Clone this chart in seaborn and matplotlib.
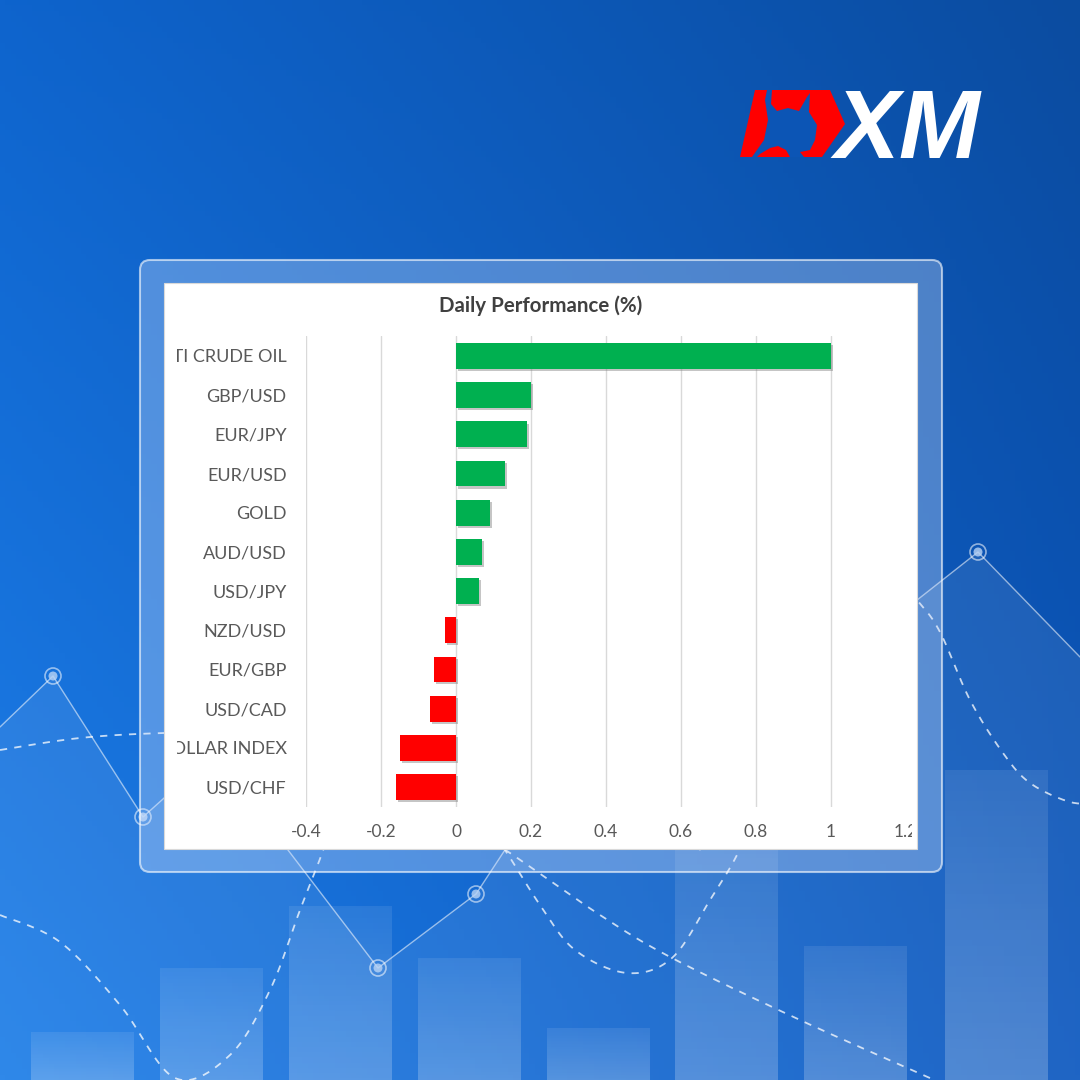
#importing libraries
import numpy as np
import pandas as pd
import seaborn as sns
import matplotlib.pyplot as plt
import matplotlib.patheffects as pe
from matplotlib.patches import Rectangle, FancyBboxPatch, Polygon, Circle
from matplotlib.transforms import Bbox, TransformedBbox

#chart data
markets = ["WTI CRUDE OIL", "GBP/USD", "EUR/JPY", "EUR/USD", "GOLD", "AUD/USD",
           "USD/JPY", "NZD/USD", "EUR/GBP", "USD/CAD", "DOLLAR INDEX", "USD/CHF"]
changes = [1.0, 0.20, 0.19, 0.13, 0.09, 0.07, 0.06, -0.03, -0.06, -0.07, -0.15, -0.16]
x_ticks = [-0.4, -0.2, 0, 0.2, 0.4, 0.6, 0.8, 1.0, 1.2]
x_tick_labels = ["-0.4", "-0.2", "0", "0.2", "0.4", "0.6", "0.8", "1", "1.2"]
title = "Daily Performance (%)"

df = pd.DataFrame({"market": markets, "change": changes})
df["sign"] = np.where(df["change"] >= 0, "up", "down")

sns.set_theme(style="white")
plt.rcParams["font.family"] = ["Lato", "DejaVu Sans"]

fig = plt.figure(figsize=(10.8, 10.8), dpi=100)

#background layer in pixel coordinates
bg = fig.add_axes([0, 0, 1, 1])
yy, xx = np.mgrid[0:1:200j, 0:1:200j]
tl, tr = np.array([14, 100, 205]), np.array([11, 76, 160])
bl, br = np.array([30, 126, 232]), np.array([12, 88, 192])
rgb = (tl * ((1 - xx) * (1 - yy))[..., None] + tr * (xx * (1 - yy))[..., None]
       + bl * ((1 - xx) * yy)[..., None] + br * (xx * yy)[..., None]) / 255
bg.imshow(rgb, extent=(0, 1080, 1080, 0), aspect="auto", zorder=0)

#decorative columns
col_left = [31, 160, 289, 418, 547, 675, 804, 945]
col_top = [1032, 968, 906, 958, 1028, 850, 946, 770]
for x0, top in zip(col_left, col_top):
    fade = np.zeros((60, 1, 4))
    fade[..., :3] = 1
    fade[:, 0, 3] = np.linspace(0.09, 0.22, 60)
    bg.imshow(fade, extent=(x0, x0 + 103, 1080, top), aspect="auto", zorder=1)

#decorative mountain line
mx = [0, 53, 143, 214, 378, 476, 560, 700, 860, 978, 1080]
my = [727, 676, 817, 753, 968, 894, 766, 850, 645, 552, 657]
bg.fill_between(mx, my, 1080, color="white", alpha=0.08, lw=0, zorder=2)
bg.plot(mx, my, color="white", alpha=0.55, lw=1, zorder=3)
for px, py in [(53, 676), (143, 817), (378, 968), (476, 894), (978, 552)]:
    bg.add_patch(Circle((px, py), 8, fc="none", ec="white", alpha=0.55, lw=1.2, zorder=4))
    bg.add_patch(Circle((px, py), 4.5, fc="#b8d3f5", ec="none", alpha=0.8, zorder=4))


def smooth(points, n=30):
    # catmull-rom through the given control points (decoration only)
    p = np.array(points, dtype=float)
    p = np.vstack([p[0], p, p[-1]])
    out = []
    for i in range(1, len(p) - 2):
        t = np.linspace(0, 1, n)[:, None]
        p0, p1, p2, p3 = p[i - 1], p[i], p[i + 1], p[i + 2]
        out.append(0.5 * (2 * p1 + (-p0 + p2) * t + (2 * p0 - 5 * p1 + 4 * p2 - p3) * t ** 2
                          + (-p0 + 3 * p1 - 3 * p2 + p3) * t ** 3))
    return np.vstack(out)


dashed = [
    [(0, 750), (80, 738), (164, 733), (260, 732), (330, 745)],
    [(0, 915), (60, 942), (120, 1005), (175, 1078), (230, 1055), (270, 990), (300, 910), (325, 845), (345, 780)],
    [(470, 800), (505, 850), (540, 905), (575, 950), (627, 973), (672, 958), (710, 900), (738, 853), (760, 800)],
    [(480, 835), (510, 853), (600, 915), (672, 958), (800, 1020), (930, 1078), (960, 1092)],
    [(880, 560), (917, 600), (940, 632), (970, 700), (1003, 753), (1030, 783), (1070, 802), (1100, 803)],
]
for pts in dashed:
    c = smooth(pts)
    bg.plot(c[:, 0], c[:, 1], color="white", alpha=0.75, lw=1.3, ls=(0, (4, 4)), zorder=3)

#panel frame and white card
bg.add_patch(FancyBboxPatch((140, 260), 802, 612, boxstyle="round,pad=0,rounding_size=10",
                            fc=(0.85, 0.9, 1, 0.32), ec=(1, 1, 1, 0.6), lw=1.5, zorder=5))
bg.add_patch(Rectangle((164, 283), 753, 566, fc="white", ec="#d9d9d9", lw=0.8, zorder=6))

#XM logo
bg.add_patch(Polygon([(755, 90), (830, 90), (845, 124), (822, 157), (740, 157)],
                     closed=True, fc="#ff0000", ec="none", zorder=7))
bull = [(767, 90), (772, 90), (771, 104), (777, 111), (788, 108), (799, 111), (807, 97), (810, 93),
        (809, 112), (817, 125), (815, 140), (810, 150), (800, 152), (804, 157), (790, 157),
        (786, 150), (778, 146), (770, 148), (760, 154), (757, 157), (752, 157), (764, 140),
        (768, 120), (765, 100)]
bg.add_patch(Polygon(bull, closed=True, fc="#0c55b5", ec="none", zorder=8))
bg.text(834, 158, "XM", color="white", fontsize=70, fontweight="heavy", fontstyle="italic",
        family=["Liberation Sans", "DejaVu Sans"], ha="left", va="baseline", zorder=8)

bg.set_xlim(0, 1080)
bg.set_ylim(1080, 0)
bg.axis("off")

#bar chart
ax = fig.add_axes([306 / 1080, (1080 - 806.6) / 1080, 600 / 1080, 470.2 / 1080])
sns.barplot(data=df, x="change", y="market", hue="sign", orient="h", dodge=False,
            palette={"up": "#00B050", "down": "#FF0000"}, saturation=1, width=0.66,
            legend=False, linewidth=0, edgecolor="none", ax=ax)
for bar in ax.patches:
    bar.set_path_effects([pe.SimplePatchShadow(offset=(1.5, -1.5), shadow_rgbFace="#7f7f7f", alpha=0.45),
                          pe.Normal()])

ax.set_xlim(-0.4, 1.2)
ax.set_ylim(11.5, -0.5)
ax.set_xticks(x_ticks)
ax.set_xticklabels(x_tick_labels)
ax.set_xlabel("")
ax.set_ylabel("")
ax.set_facecolor("none")
ax.grid(axis="x", color="#d9d9d9", lw=1)
ax.grid(axis="y", visible=False)
ax.set_axisbelow(True)
ax.xaxis.get_gridlines()[-1].set_visible(False)
for s in ax.spines.values():
    s.set_visible(False)
ax.tick_params(axis="y", length=0, pad=14, labelsize=13, labelcolor="#595959")
ax.tick_params(axis="x", length=0, pad=12.5, labelsize=12.5, labelcolor="#595959")

#labels cut at the card edges like the original export
clip = TransformedBbox(Bbox.from_extents(177, 283, 912, 849), bg.transData)
for lab in ax.get_yticklabels() + ax.get_xticklabels():
    lab.set_clip_box(clip)
    lab.set_clip_on(True)

fig.text(540.5 / 1080, 1 - 306 / 1080, title, ha="center", va="center", fontsize=14.8,
         fontweight="bold", color="#404040")

fig.savefig("out.png", dpi=100)
